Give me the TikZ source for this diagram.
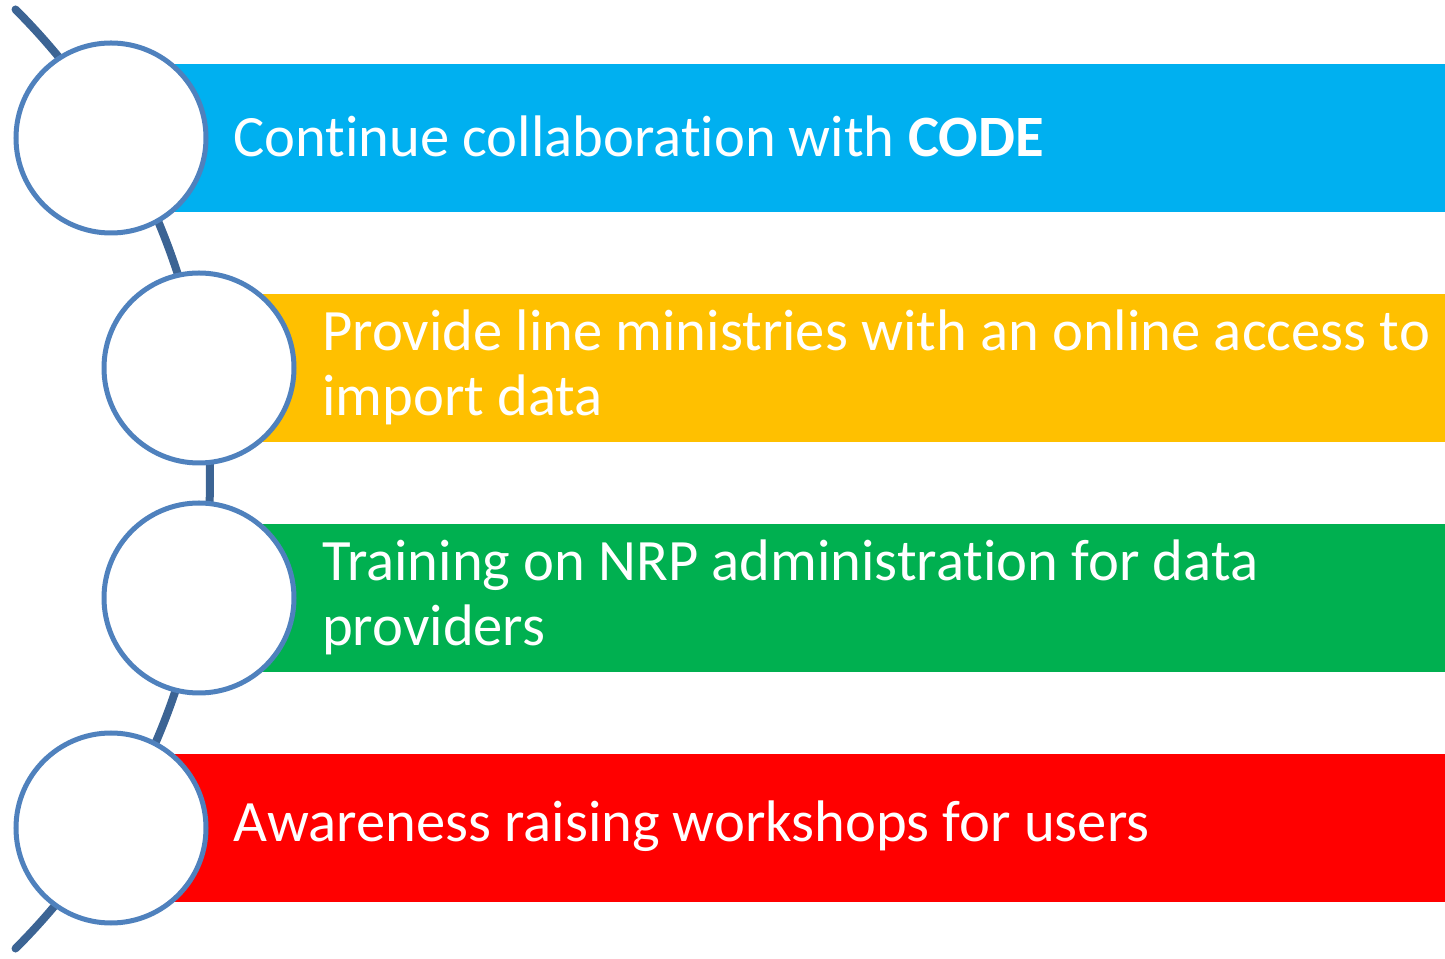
\documentclass[tikz,border=0pt]{standalone}
\usepackage{fontspec}
\setmainfont{Carlito}[Ligatures=NoCommon]
\usetikzlibrary{calc}

\definecolor{barblue}{HTML}{00B0F0}
\definecolor{bargold}{HTML}{FFC000}
\definecolor{bargreen}{HTML}{00B050}
\definecolor{barred}{HTML}{FF0000}
\definecolor{ringblue}{HTML}{4F81BD}
\definecolor{spine}{HTML}{3C6494}

\begin{document}
\begin{tikzpicture}[x=1pt, y=1pt,
    ring/.style={circle, draw=ringblue, line width=5pt, fill=white,
                 minimum size=190pt, inner sep=0pt},
    bar/.style={rectangle, anchor=west, minimum height=148pt, inner sep=0pt},
    itemtext/.style={anchor=west, inner sep=0pt, align=left, text=white,
                     font=\fontsize{58.6}{65}\selectfont}]

    % Fix the page to the size of the picture
    \useasboundingbox (0,0) rectangle (1445,958);

    % Centre of the big arc that links the circles
    \coordinate (O) at (-454,479);

    % Draw the arc behind everything
    \draw[spine, line width=8pt, line cap=round] (O) ++(45:664) arc (45:-45:664);

    % Define the centres of the circles
    \coordinate (P1) at (111,820);
    \coordinate (P2) at (199,590);
    \coordinate (P3) at (199,360);
    \coordinate (P4) at (111,130);

    % Draw the coloured bars, starting under the circles
    \node[bar, fill=barblue,  minimum width=1334pt] (b1) at (P1) {};
    \node[bar, fill=bargold,  minimum width=1246pt] (b2) at (P2) {};
    \node[bar, fill=bargreen, minimum width=1246pt] (b3) at (P3) {};
    \node[bar, fill=barred,   minimum width=1334pt] (b4) at (P4) {};

    % Draw the circles on top of the bars
    \node[ring] (c1) at (P1) {};
    \node[ring] (c2) at (P2) {};
    \node[ring] (c3) at (P3) {};
    \node[ring] (c4) at (P4) {};

    % Add the texts
    \node[itemtext] (t1) at ($(c1.center)+(122,2)$) {Continue collaboration with \textbf{CODE}};
    \node[itemtext] (t2) at ($(c2.center)+(123,1)$) {Provide line ministries with an online access to\\import data};
    \node[itemtext] (t3) at ($(c3.center)+(123,1)$) {Training on NRP administration for data\\providers};
    \node[itemtext] (t4) at ($(c4.center)+(122,2)$) {Awareness raising workshops for users};

\end{tikzpicture}
\end{document}
